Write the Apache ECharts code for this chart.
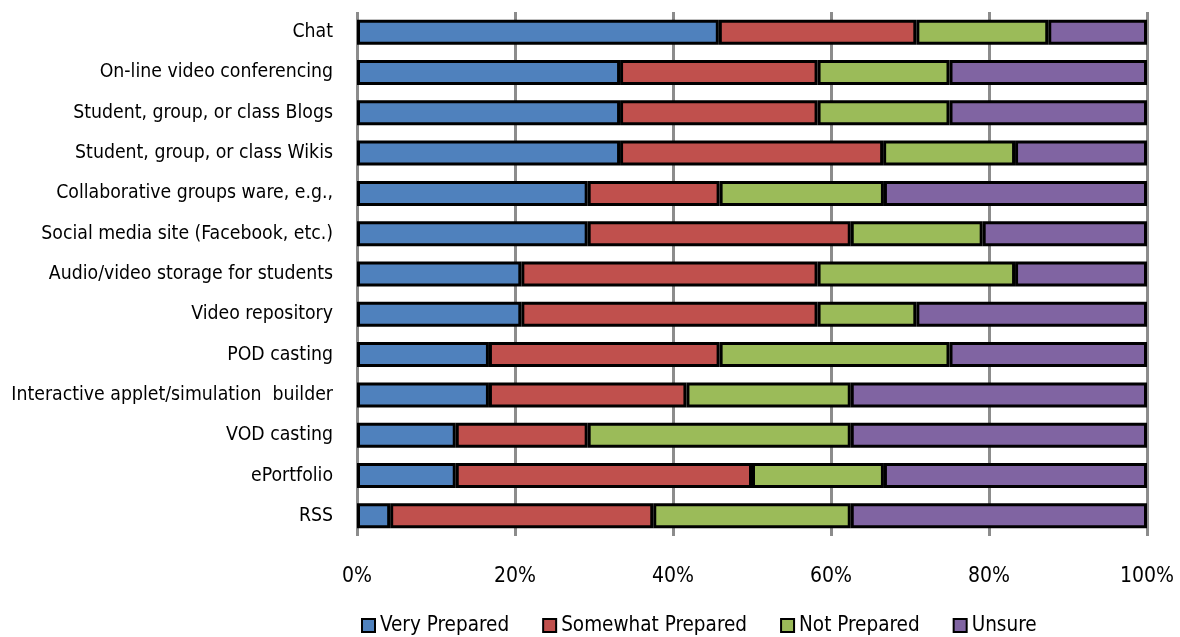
<!DOCTYPE html>
<html>
<head>
<meta charset="utf-8">
<style>
  html, body { margin: 0; padding: 0; background: #fff; }
  #chart { width: 1180px; height: 637px; }
</style>
<script src="https://cdn.jsdelivr.net/npm/echarts@6/dist/echarts.min.js"></script>
</head>
<body>
<div id="chart"></div>
<script>
// Tools, listed top to bottom
const categories = [
  'Chat',
  'On-line video conferencing',
  'Student, group, or class Blogs',
  'Student, group, or class Wikis',
  'Collaborative groups ware, e.g.,',
  'Social media site (Facebook, etc.)',
  'Audio/video storage for students',
  'Video repository',
  'POD casting',
  'Interactive applet/simulation  builder',
  'VOD casting',
  'ePortfolio',
  'RSS'
];

// Share of respondents (%) per preparedness level
const veryPrepared     = [45.8, 33.3, 33.3, 33.3, 29.2, 29.2, 20.8, 20.8, 16.7, 16.7, 12.5, 12.5, 4.2];
const somewhatPrepared = [25.0, 25.0, 25.0, 33.3, 16.7, 33.3, 37.5, 37.5, 29.2, 25.0, 16.7, 37.5, 33.3];
const notPrepared      = [16.7, 16.7, 16.7, 16.7, 20.8, 16.7, 25.0, 12.5, 29.1, 20.8, 33.3, 16.7, 25.0];
const unsure           = [12.5, 25.0, 25.0, 16.7, 33.3, 20.8, 16.7, 29.2, 25.0, 37.5, 37.5, 33.3, 37.5];

const seriesNames = ['Very Prepared', 'Somewhat Prepared', 'Not Prepared', 'Unsure'];
const seriesData = [veryPrepared, somewhatPrepared, notPrepared, unsure];
const colors = ['#4F81BD', '#C0504D', '#9BBB59', '#8064A2'];

const font = "'DejaVu Sans Condensed', 'Liberation Sans Narrow', 'Liberation Sans', sans-serif";

const chart = echarts.init(document.getElementById('chart'), null, { renderer: 'canvas' });

chart.setOption({
  animation: false,
  textStyle: { fontFamily: font },
  grid: {
    left: 357, right: 33, top: 12, bottom: 101,
    containLabel: false,
    outerBoundsMode: 'none'
  },
  legend: {
    bottom: -4,
    left: 356,
    icon: 'rect',
    itemWidth: 13,
    itemHeight: 13,
    itemGap: 33,
    textStyle: { fontFamily: font, fontSize: 20.5, color: '#000', padding: [0, 0, 0, 0] },
    data: seriesNames
  },
  xAxis: {
    type: 'value',
    min: 0,
    max: 100,
    interval: 20,
    axisLabel: {
      formatter: '{value}%',
      fontFamily: font,
      fontSize: 21,
      color: '#000',
      margin: 30
    },
    axisLine: { show: false },
    axisTick: { show: false },
    splitLine: { show: true, lineStyle: { color: '#8c8c8c', width: 3 } }
  },
  yAxis: {
    type: 'category',
    inverse: true,
    data: categories,
    axisLabel: {
      fontFamily: font,
      fontSize: 19.3,
      color: '#000',
      margin: 24
    },
    axisLine: { show: false },
    axisTick: { show: false },
    splitLine: { show: false }
  },
  series: seriesData.map((d, i) => ({
    name: seriesNames[i],
    type: 'bar',
    stack: 'total',
    data: d,
    barWidth: 25,
    itemStyle: { color: colors[i], borderColor: '#000', borderWidth: 3 }
  }))
});
</script>
</body>
</html>
